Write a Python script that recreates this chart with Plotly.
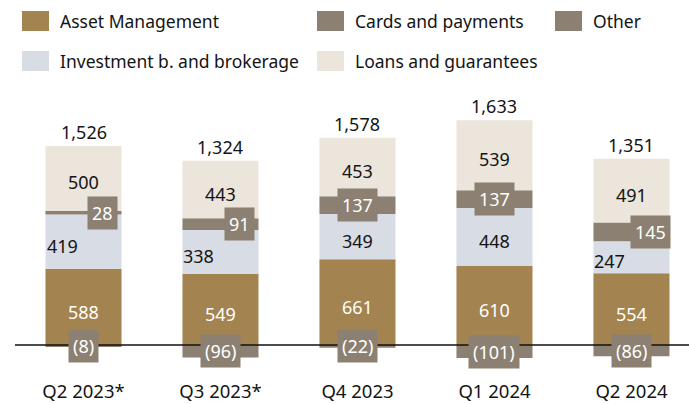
import plotly.graph_objects as go

categories = ["Q2 2023*", "Q3 2023*", "Q4 2023", "Q1 2024", "Q2 2024"]
asset_mgmt = [588, 549, 661, 610, 554]
investment = [419, 338, 349, 448, 247]
cards = [28, 91, 137, 137, 145]
loans = [500, 443, 453, 539, 491]
other = [-8, -96, -22, -101, -86]
totals = [1526, 1324, 1578, 1633, 1351]

# label styling offsets (pixels)
cards_shift = [19, 19, 0, 0, 19]
invest_left = [True, True, False, False, True]

C_AM = "#a3834f"
C_INV = "#d8dce4"
C_CARDS = "#8b8071"
C_LOANS = "#ebe5dc"
C_OTHER = "#8b8071"
TXT = "#141414"
FONT = "Noto Sans"
FS = 18

W, H = 689, 404
ML, MR, MT, MB = 15, 0, 80, 24
PX_PER = 0.1296
ZERO_PX = 345
y_top = (ZERO_PX - MT) / PX_PER
y_bot = -((H - MB) - ZERO_PX) / PX_PER

fig = go.Figure()
for name, vals, col in [("Asset Management", asset_mgmt, C_AM),
                        ("Investment b. and brokerage", investment, C_INV),
                        ("Cards and payments", cards, C_CARDS),
                        ("Loans and guarantees", loans, C_LOANS),
                        ("Other", other, C_OTHER)]:
    fig.add_trace(go.Bar(x=categories, y=vals, name=name, marker=dict(color=col, line=dict(width=0)),
                         showlegend=False, hoverinfo="skip"))

ann = []
def fmt(v):
    return f"({abs(v)})" if v < 0 else f"{v:,}"

for i, c in enumerate(categories):
    base = 0
    ann.append(dict(x=c, y=base + asset_mgmt[i] / 2, text=fmt(asset_mgmt[i]), showarrow=False,
                    font=dict(color="white", size=FS, family=FONT), yshift=-5))
    base += asset_mgmt[i]
    if invest_left[i]:
        ann.append(dict(x=c, y=base + investment[i] / 2, text=fmt(investment[i]), showarrow=False,
                        xanchor="left", xshift=-39, font=dict(color=TXT, size=FS, family=FONT), yshift=-4))
    else:
        ann.append(dict(x=c, y=base + investment[i] / 2, text=fmt(investment[i]), showarrow=False,
                        font=dict(color=TXT, size=FS, family=FONT), yshift=-4))
    base += investment[i]
    ann.append(dict(x=c, y=base + cards[i] / 2, text=fmt(cards[i]), showarrow=False,
                    xshift=cards_shift[i], bgcolor=C_CARDS, borderpad=4,
                    font=dict(color="white", size=FS, family=FONT)))
    base += cards[i]
    ann.append(dict(x=c, y=base + loans[i] / 2, text=fmt(loans[i]), showarrow=False,
                    font=dict(color=TXT, size=FS, family=FONT), yshift=-4))
    base += loans[i]
    ann.append(dict(x=c, y=base, text=fmt(totals[i]), showarrow=False, yanchor="bottom", yshift=0,
                    font=dict(color=TXT, size=FS, family=FONT)))
    ann.append(dict(x=c, y=other[i] / 2, text=fmt(other[i]), showarrow=False,
                    bgcolor=C_OTHER, borderpad=4, font=dict(color="white", size=FS, family=FONT)))

PW = W - ML - MR
PH = H - MT - MB
def px_x(p):
    return (p - ML) / PW
def px_y(p):
    return (H - MB - p) / PH

legend_items = [("Asset Management", C_AM, 22, 11),
                ("Cards and payments", C_CARDS, 317, 11),
                ("Other", C_OTHER, 555, 11),
                ("Investment b. and brokerage", C_INV, 22, 51),
                ("Loans and guarantees", C_LOANS, 317, 51)]
shapes = []
for label, col, x0, y0 in legend_items:
    shapes.append(dict(type="rect", xref="paper", yref="paper", x0=px_x(x0), x1=px_x(x0 + 27),
                       y0=px_y(y0 + 20), y1=px_y(y0), fillcolor=col, line=dict(width=0)))
    ann.append(dict(xref="paper", yref="paper", x=px_x(x0 + 36), y=px_y(y0 + 10), text=label,
                    showarrow=False, xanchor="left", yanchor="middle",
                    font=dict(color=TXT, size=17.5, family=FONT)))

shapes.append(dict(type="line", xref="paper", yref="y", x0=0, x1=1, y0=0, y1=0,
                   line=dict(color="#111111", width=1.5), layer="above"))

fig.update_layout(
    width=W, height=H, margin=dict(l=ML, r=MR, t=MT, b=MB),
    barmode="relative", bargap=0.445,
    plot_bgcolor="white", paper_bgcolor="white",
    annotations=ann, shapes=shapes,
    xaxis=dict(range=[-0.5, 4.42], showgrid=False, zeroline=False, showline=False, automargin=False,
               ticks="", ticklabelstandoff=-2,
               tickfont=dict(size=18.5, color=TXT, family=FONT), fixedrange=True),
    yaxis=dict(range=[y_bot, y_top], visible=False, showgrid=False, zeroline=False, automargin=False,
               fixedrange=True),
    showlegend=False,
)
fig.write_html("out.html", config={"displayModeBar": False},
               post_script="document.body.style.margin='0';document.body.style.padding='0';document.body.style.overflow='hidden';")
